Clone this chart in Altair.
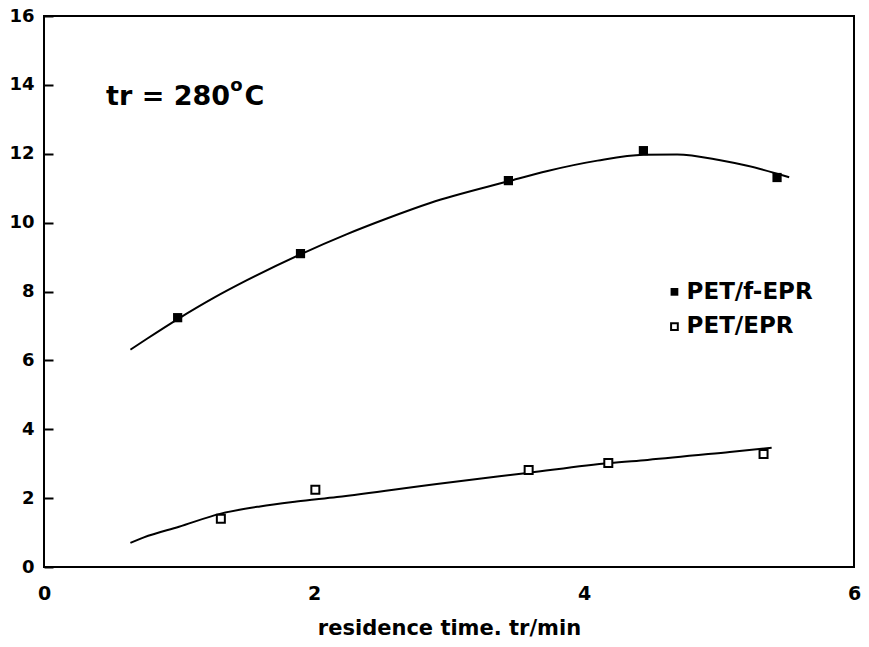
import altair as alt
import pandas as pd

# ---- data ----
filled_x = [0.99, 1.90, 3.44, 4.44, 5.43]
filled_y = [7.24, 9.10, 11.22, 12.09, 11.31]
open_x = [1.31, 2.01, 3.59, 4.18, 5.33]
open_y = [1.40, 2.24, 2.82, 3.02, 3.28]

upper_curve_x = [0.64, 0.76, 1.0, 1.26, 1.5, 1.9, 2.24, 2.54, 2.86, 3.44, 3.73, 4.10, 4.44, 4.69, 5.0, 5.21, 5.52]
upper_curve_y = [6.31, 6.62, 7.22, 7.82, 8.32, 9.08, 9.66, 10.12, 10.57, 11.2, 11.5, 11.8, 11.97, 11.98, 11.82, 11.65, 11.32]
lower_curve_x = [0.64, 0.74, 1.0, 1.31, 1.6, 1.87, 2.17, 2.91, 3.58, 4.19, 4.47, 5.08, 5.39]
lower_curve_y = [0.70, 0.86, 1.17, 1.55, 1.76, 1.90, 2.03, 2.41, 2.73, 3.02, 3.11, 3.34, 3.46]

x_ticks = [0, 2, 4, 6]
y_ticks = [0, 2, 4, 6, 8, 10, 12, 14, 16]

legend_labels = ["PET/f-EPR", "PET/EPR"]
legend_marker_x = [4.67, 4.67]
legend_marker_y = [7.99, 6.98]
legend_text_x = [4.76, 4.76]
legend_text_y = [7.79, 6.80]

FONT = "DejaVu Sans"

xs = alt.Scale(domain=[0, 6], nice=False, zero=False)
ys = alt.Scale(domain=[0, 16], nice=False, zero=False)

filled_df = pd.DataFrame({"x": filled_x, "y": filled_y})
open_df = pd.DataFrame({"x": open_x, "y": open_y})
upper_df = pd.DataFrame({"x": upper_curve_x, "y": upper_curve_y})
lower_df = pd.DataFrame({"x": lower_curve_x, "y": lower_curve_y})

X = alt.X("x:Q", scale=xs, axis=alt.Axis(values=x_ticks, title="residence time. tr/min",
                                         ticks=False, domain=False, grid=False, labelPadding=17,
                                         labelFontSize=19, labelFlush=False, titlePadding=14,
                                         format="d"))
# y axis shifted 9 px into the plot so its ticks point inward; the frame draws the axis line
Y = alt.Y("y:Q", scale=ys, axis=alt.Axis(values=y_ticks, title=None, ticks=True, tickSize=9,
                                         tickWidth=2, tickColor="black", offset=-9,
                                         domain=False, grid=False, labelPadding=10,
                                         labelFontSize=18, labelFlush=False, format="d"))

upper_line = alt.Chart(upper_df).mark_line(color="black", strokeWidth=2, interpolate="monotone").encode(
    x=X, y=Y, order="x:Q")
lower_line = alt.Chart(lower_df).mark_line(color="black", strokeWidth=2, interpolate="monotone").encode(
    x=X, y=Y, order="x:Q")

filled_pts = alt.Chart(filled_df).mark_point(shape="square", filled=True, color="black",
                                             size=85, opacity=1).encode(x=X, y=Y)
open_pts = alt.Chart(open_df).mark_point(shape="square", filled=True, fill="white",
                                         stroke="black", strokeWidth=2, size=64,
                                         opacity=1).encode(x=X, y=Y)

# annotation
ann_main = alt.Chart(pd.DataFrame({"x": [0.46], "y": [13.43], "t": ["tr = 280"]})).mark_text(
    align="left", baseline="alphabetic", font=FONT, fontWeight="bold", fontSize=27, color="black"
).encode(x=alt.X("x:Q", scale=xs), y=alt.Y("y:Q", scale=ys), text="t:N")
ann_deg = alt.Chart(pd.DataFrame({"x": [1.38], "y": [13.81], "t": ["o"]})).mark_text(
    align="left", baseline="alphabetic", font=FONT, fontWeight="bold", fontSize=18, color="black"
).encode(x=alt.X("x:Q", scale=xs), y=alt.Y("y:Q", scale=ys), text="t:N")
ann_c = alt.Chart(pd.DataFrame({"x": [1.485], "y": [13.43], "t": ["C"]})).mark_text(
    align="left", baseline="alphabetic", font=FONT, fontWeight="bold", fontSize=27, color="black"
).encode(x=alt.X("x:Q", scale=xs), y=alt.Y("y:Q", scale=ys), text="t:N")

# legend (drawn manually as in the reference)
leg_f = alt.Chart(pd.DataFrame({"x": [legend_marker_x[0]], "y": [legend_marker_y[0]]})).mark_point(
    shape="square", filled=True, color="black", size=60, opacity=1).encode(
    x=alt.X("x:Q", scale=xs), y=alt.Y("y:Q", scale=ys))
leg_o = alt.Chart(pd.DataFrame({"x": [legend_marker_x[1]], "y": [legend_marker_y[1]]})).mark_point(
    shape="square", filled=True, fill="white", stroke="black", strokeWidth=2, size=45, opacity=1).encode(
    x=alt.X("x:Q", scale=xs), y=alt.Y("y:Q", scale=ys))
leg_text = alt.Chart(pd.DataFrame({"x": legend_text_x, "y": legend_text_y, "t": legend_labels})).mark_text(
    align="left", baseline="alphabetic", font=FONT, fontWeight="bold", fontSize=23, color="black"
).encode(x=alt.X("x:Q", scale=xs), y=alt.Y("y:Q", scale=ys), text="t:N")

chart = alt.layer(
    upper_line, lower_line, filled_pts, open_pts, ann_main, ann_deg, ann_c,
    leg_f, leg_o, leg_text
).properties(
    width=810, height=551,
    autosize=alt.AutoSizeParams(type="none"),
    padding={"left": 36, "top": 8, "right": 7, "bottom": 72},
    background="white",
).configure_view(
    stroke="black", strokeWidth=2
).configure_axis(
    labelFont=FONT, labelFontWeight="bold", labelColor="black",
    titleFont=FONT, titleFontWeight="bold", titleFontSize=21, titleColor="black",
)

chart.save("out.html", embed_options={"renderer": "svg", "actions": False})
